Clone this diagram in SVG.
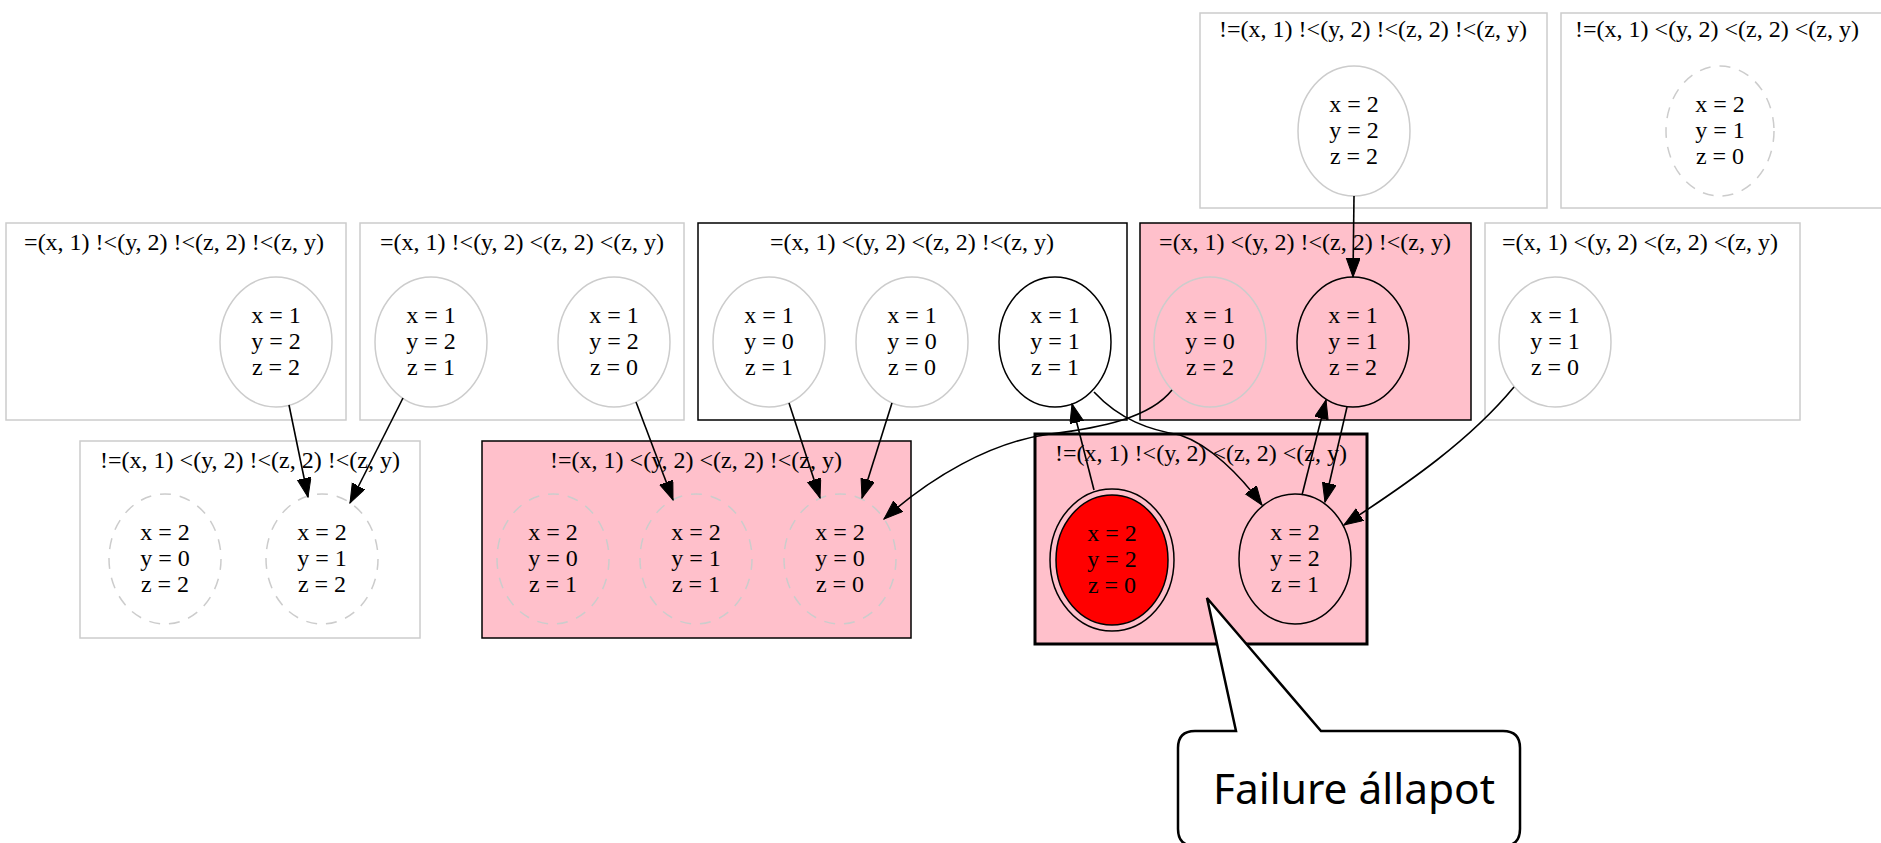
<svg xmlns="http://www.w3.org/2000/svg" width="1881" height="843" viewBox="0 0 1881 843">
<style>
text{font-family:"Liberation Serif","Times New Roman",serif;font-size:24px;fill:#000;text-anchor:middle}
.cg{fill:#fff;stroke:#cccccc;stroke-width:1.5}
.cb{fill:#fff;stroke:#000;stroke-width:1.5}
.cp{fill:#ffc0cb;stroke:#000;stroke-width:1.5}
.cpt{fill:#ffc0cb;stroke:#000;stroke-width:3}
.ng{fill:none;stroke:#cccccc;stroke-width:1.5}
.nd{fill:none;stroke:#cccccc;stroke-width:1.5;stroke-dasharray:11 9}
.nb{fill:none;stroke:#000;stroke-width:1.5}
.edge{fill:none;stroke:#000;stroke-width:1.6;marker-end:url(#ah)}
.call{fill:#fff;stroke:#000;stroke-width:2.5;stroke-linejoin:miter}
.ct{font-family:"Noto Sans","Open Sans",sans-serif;font-size:42px}
</style>
<defs>
<marker id="ah" markerUnits="userSpaceOnUse" markerWidth="20" markerHeight="16" refX="19" refY="7" orient="auto">
<path d="M0,0 L19,7 L0,14 Z" fill="#000" stroke="#000" stroke-width="1"/>
</marker>
</defs>

<g id="cluster-T1">
<rect class="cg" x="1200" y="13" width="347" height="195"/>
<text x="1373" y="37">!=(x, 1) !&lt;(y, 2) !&lt;(z, 2) !&lt;(z, y)</text>
</g>
<g id="node-222">
<ellipse class="ng" cx="1354" cy="131" rx="56" ry="65"/>
<text x="1354" y="112">x = 2</text><text x="1354" y="138">y = 2</text><text x="1354" y="164">z = 2</text>
</g>

<g id="cluster-T2">
<rect class="cg" x="1561" y="13" width="330" height="195"/>
<text x="1717" y="37">!=(x, 1) &lt;(y, 2) &lt;(z, 2) &lt;(z, y)</text>
</g>
<g id="node-210">
<ellipse class="nd" cx="1720" cy="131" rx="54" ry="65"/>
<text x="1720" y="112">x = 2</text><text x="1720" y="138">y = 1</text><text x="1720" y="164">z = 0</text>
</g>

<g id="cluster-A">
<rect class="cg" x="6" y="223" width="340" height="197"/>
<text x="174" y="250">=(x, 1) !&lt;(y, 2) !&lt;(z, 2) !&lt;(z, y)</text>
</g>
<g id="node-122">
<ellipse class="ng" cx="276" cy="342" rx="56" ry="65"/>
<text x="276" y="323">x = 1</text><text x="276" y="349">y = 2</text><text x="276" y="375">z = 2</text>
</g>

<g id="cluster-B">
<rect class="cg" x="360" y="223" width="324" height="197"/>
<text x="522" y="250">=(x, 1) !&lt;(y, 2) &lt;(z, 2) &lt;(z, y)</text>
</g>
<g id="node-121">
<ellipse class="ng" cx="431" cy="342" rx="56" ry="65"/>
<text x="431" y="323">x = 1</text><text x="431" y="349">y = 2</text><text x="431" y="375">z = 1</text>
</g>
<g id="node-120">
<ellipse class="ng" cx="614" cy="342" rx="56" ry="65"/>
<text x="614" y="323">x = 1</text><text x="614" y="349">y = 2</text><text x="614" y="375">z = 0</text>
</g>

<g id="cluster-C2">
<rect class="cb" x="698" y="223" width="429" height="197"/>
<text x="912" y="250">=(x, 1) &lt;(y, 2) &lt;(z, 2) !&lt;(z, y)</text>
</g>
<g id="node-101">
<ellipse class="ng" cx="769" cy="342" rx="56" ry="65"/>
<text x="769" y="323">x = 1</text><text x="769" y="349">y = 0</text><text x="769" y="375">z = 1</text>
</g>
<g id="node-100">
<ellipse class="ng" cx="912" cy="342" rx="56" ry="65"/>
<text x="912" y="323">x = 1</text><text x="912" y="349">y = 0</text><text x="912" y="375">z = 0</text>
</g>
<g id="node-111">
<ellipse class="nb" cx="1055" cy="342" rx="56" ry="65"/>
<text x="1055" y="323">x = 1</text><text x="1055" y="349">y = 1</text><text x="1055" y="375">z = 1</text>
</g>

<g id="cluster-D2">
<rect class="cp" x="1140" y="223" width="331" height="197"/>
<text x="1305" y="250">=(x, 1) &lt;(y, 2) !&lt;(z, 2) !&lt;(z, y)</text>
</g>
<g id="node-102">
<ellipse class="ng" cx="1210" cy="342" rx="56" ry="65"/>
<text x="1210" y="323">x = 1</text><text x="1210" y="349">y = 0</text><text x="1210" y="375">z = 2</text>
</g>
<g id="node-112">
<ellipse class="nb" cx="1353" cy="342" rx="56" ry="65"/>
<text x="1353" y="323">x = 1</text><text x="1353" y="349">y = 1</text><text x="1353" y="375">z = 2</text>
</g>

<g id="cluster-E">
<rect class="cg" x="1485" y="223" width="315" height="197"/>
<text x="1640" y="250">=(x, 1) &lt;(y, 2) &lt;(z, 2) &lt;(z, y)</text>
</g>
<g id="node-110">
<ellipse class="ng" cx="1555" cy="342" rx="56" ry="65"/>
<text x="1555" y="323">x = 1</text><text x="1555" y="349">y = 1</text><text x="1555" y="375">z = 0</text>
</g>

<g id="cluster-C">
<rect class="cg" x="80" y="441" width="340" height="197"/>
<text x="250" y="468">!=(x, 1) &lt;(y, 2) !&lt;(z, 2) !&lt;(z, y)</text>
</g>
<g id="node-202">
<ellipse class="nd" cx="165" cy="559" rx="56" ry="65"/>
<text x="165" y="540">x = 2</text><text x="165" y="566">y = 0</text><text x="165" y="592">z = 2</text>
</g>
<g id="node-212">
<ellipse class="nd" cx="322" cy="559" rx="56" ry="65"/>
<text x="322" y="540">x = 2</text><text x="322" y="566">y = 1</text><text x="322" y="592">z = 2</text>
</g>

<g id="cluster-D">
<rect class="cp" x="482" y="441" width="429" height="197"/>
<text x="696" y="468">!=(x, 1) &lt;(y, 2) &lt;(z, 2) !&lt;(z, y)</text>
</g>
<g id="node-201">
<ellipse class="nd" cx="553" cy="559" rx="56" ry="65"/>
<text x="553" y="540">x = 2</text><text x="553" y="566">y = 0</text><text x="553" y="592">z = 1</text>
</g>
<g id="node-211">
<ellipse class="nd" cx="696" cy="559" rx="56" ry="65"/>
<text x="696" y="540">x = 2</text><text x="696" y="566">y = 1</text><text x="696" y="592">z = 1</text>
</g>
<g id="node-200">
<ellipse class="nd" cx="840" cy="559" rx="56" ry="65"/>
<text x="840" y="540">x = 2</text><text x="840" y="566">y = 0</text><text x="840" y="592">z = 0</text>
</g>

<g id="cluster-F">
<rect class="cpt" x="1035" y="434" width="332" height="210"/>
<text x="1201" y="461">!=(x, 1) !&lt;(y, 2) &lt;(z, 2) &lt;(z, y)</text>
</g>
<g id="node-220">
<ellipse class="nb" cx="1112" cy="560" rx="62" ry="71"/>
<ellipse fill="#ff0000" stroke="#000" stroke-width="1.5" cx="1112" cy="560" rx="56" ry="65"/>
<text x="1112" y="541">x = 2</text><text x="1112" y="567">y = 2</text><text x="1112" y="593">z = 0</text>
</g>
<g id="node-221">
<ellipse class="nb" cx="1295" cy="559" rx="56" ry="65"/>
<text x="1295" y="540">x = 2</text><text x="1295" y="566">y = 2</text><text x="1295" y="592">z = 1</text>
</g>

<g id="edges">
<path class="edge" d="M1354,196 L1353,277"/>
<path class="edge" d="M289,405 L308,497"/>
<path class="edge" d="M403,398 L350,503"/>
<path class="edge" d="M636,402 L673,500"/>
<path class="edge" d="M789,403 L820,498"/>
<path class="edge" d="M892,403 L862,498"/>
<path class="edge" d="M1172,390 C1150,418 1100,428 1050,434 C990,442 930,478 884,519"/>
<path class="edge" d="M1094,490 L1072,404"/>
<path class="edge" d="M1094,392 C1120,420 1150,430 1180,435 C1210,445 1240,475 1262,505"/>
<path class="edge" d="M1302,495 L1326,400"/>
<path class="edge" d="M1347,407 L1325,502"/>
<path class="edge" d="M1514,387 C1470,440 1410,482 1344,525"/>
</g>

<g id="callout">
<path class="call" d="M1195,731 L1236,731 L1207,598 L1321,731 L1503,731 Q1520,731 1520,748 L1520,829 Q1520,846 1503,846 L1195,846 Q1178,846 1178,829 L1178,748 Q1178,731 1195,731 Z"/>
<text class="ct" x="1354" y="804" textLength="282" lengthAdjust="spacingAndGlyphs">Failure állapot</text>
</g>
</svg>
